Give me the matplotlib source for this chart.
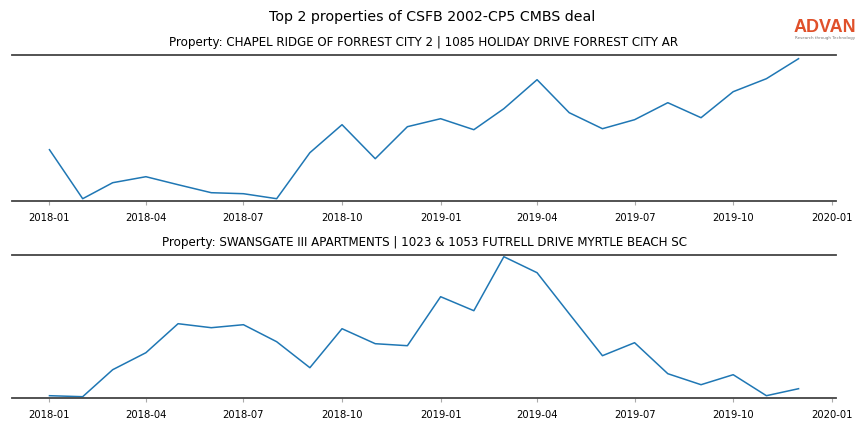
import matplotlib
matplotlib.use("Agg")
import matplotlib.pyplot as plt
import matplotlib.dates as mdates
import pandas as pd

months = pd.date_range("2018-01-01", "2019-12-01", freq="MS")

title_top = "Property: CHAPEL RIDGE OF FORREST CITY 2 | 1085 HOLIDAY DRIVE FORREST CITY AR"
values_top = [51, 2, 18, 24, 16, 8, 7, 2, 48, 76, 42, 74,
              82, 71, 92, 121, 88, 72, 81, 98, 83, 109, 122, 142]

title_bottom = "Property: SWANSGATE III APARTMENTS | 1023 & 1053 FUTRELL DRIVE MYRTLE BEACH SC"
values_bottom = [2, 1, 28, 45, 74, 70, 73, 56, 30, 69, 54, 52,
                 101, 87, 141, 125, 84, 42, 55, 24, 13, 23, 2, 9]

fig = plt.figure(figsize=(8.64, 4.32), dpi=100)
fig.suptitle("Top 2 properties of CSFB 2002-CP5 CMBS deal", fontsize=10.2, y=0.977)

boxes = [[0.0139, 0.5354, 0.9537, 0.338], [0.0139, 0.0794, 0.9537, 0.331]]
panels = [(title_top, values_top, 146), (title_bottom, values_bottom, 143)]

for box, (title, vals, top) in zip(boxes, panels):
    ax = fig.add_axes(box)
    ax.plot(months, vals, color="#1f77b4", linewidth=1.1)
    ax.set_ylim(0, top)
    ax.set_title(title, fontsize=8.6, pad=6)
    ax.xaxis.set_major_locator(mdates.MonthLocator(bymonth=[1, 4, 7, 10]))
    ax.xaxis.set_major_formatter(mdates.DateFormatter("%Y-%m"))
    ax.tick_params(axis="x", labelsize=7.2, length=3, color="#aaaaaa", pad=6)
    ax.set_yticks([])
    for side in ["left", "right"]:
        ax.spines[side].set_visible(False)
    for side in ["top", "bottom"]:
        ax.spines[side].set_color("#444444")
        ax.spines[side].set_linewidth(1.3)

# logo
fig.text(0.9545, 0.937, "ADVAN", color="#e0502a", fontsize=13, fontweight="bold",
         family="Liberation Sans", ha="center", va="center")
fig.text(0.9545, 0.912, "Research through Technology", color="#777777", fontsize=2.9,
         ha="center", va="center")

fig.savefig("out.png", dpi=100)
